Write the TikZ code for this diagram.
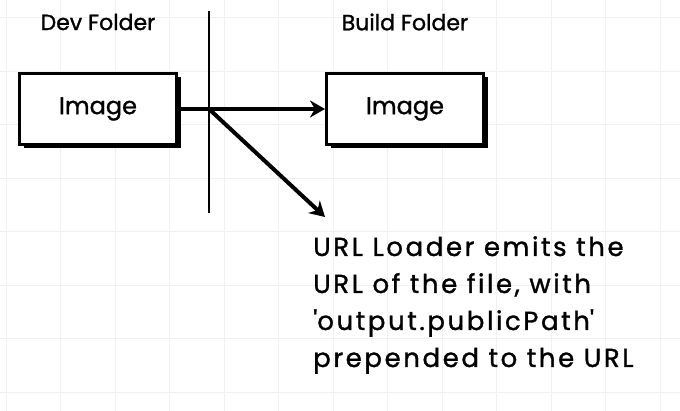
\documentclass[tikz,border=0pt]{standalone}
\usepackage{fontspec}
\setmainfont{Poppins}[FakeBold=1.2]
\usetikzlibrary{arrows.meta, positioning, shadows}
\tikzset{
  block/.style = {draw, line width=3pt, fill=white, align=center, minimum width=157pt, minimum height=71pt,
    font=\fontsize{24}{28}\selectfont,
    drop shadow={shadow xshift=4pt, shadow yshift=-4pt, fill=black, opacity=1}},
  arrow/.style = {-{Stealth[length=15pt, width=17pt]}, line width=4pt}
}

\begin{document}
\begin{tikzpicture}[x=1pt, y=-1pt]
  \colorlet{gridline}{black!6}
  \tikzset{
    foldername/.style={font=\fontsize{22}{26}\selectfont, text=black},
    notetext/.style={font=\fontsize{26}{37}\selectfont\addfontfeatures{LetterSpace=10}, align=left, inner sep=0pt, anchor=north west}
  }

  \useasboundingbox (0,0) rectangle (680,411);
  \fill[white] (0,0) rectangle (680,411);
  \foreach \gx in {6,60.5,...,680} \draw[gridline, line width=1pt] (\gx,0) -- (\gx,411);
  \foreach \gy in {18,71.5,...,411} \draw[gridline, line width=1pt] (0,\gy) -- (680,\gy);

  \node[foldername] (devlabel)   at (98,22)  {Dev Folder};
  \node[foldername] (buildlabel) at (405,22) {Build Folder};

  \node[block] (devimg)   at (98,109)  {Image};
  \node[block] (buildimg) at (405,109) {Image};

  \coordinate (divtop) at (209,11);
  \coordinate (divbot) at (209,213);
  \draw[line width=2.2pt] (divtop) -- (divbot);

  \coordinate (split) at (209,109);
  \coordinate (tip)   at (325,217);
  \draw[arrow] (devimg) -- (buildimg);
  \draw[arrow] (split) -- (tip);

  \node[notetext] (note) at (313,236) {URL Loader emits the\\URL of the file, with\\\textquotesingle output.publicPath\textquotesingle\\prepended to the URL};
\end{tikzpicture}
\end{document}
